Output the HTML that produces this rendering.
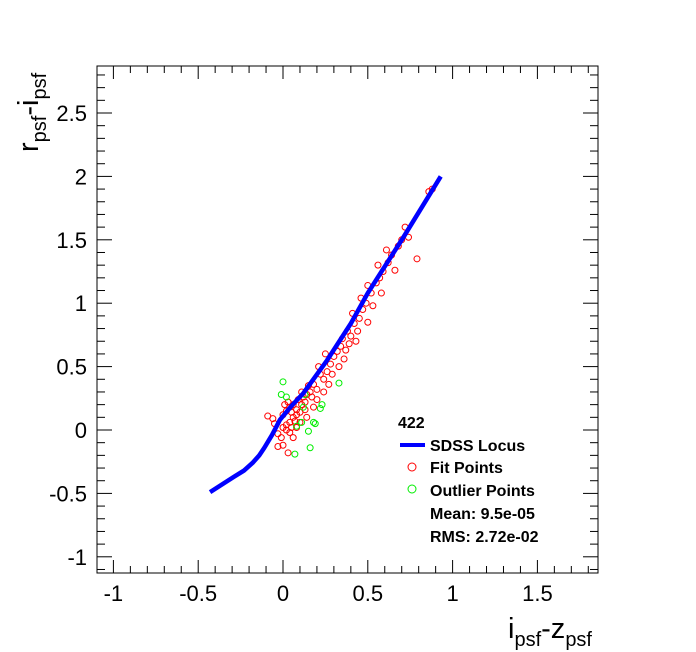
<!DOCTYPE html>
<html><head><meta charset="utf-8"><style>
body{margin:0;background:#fff;}
svg{display:block;font-family:"Liberation Sans",Arial,sans-serif;}
</style></head><body>
<svg id="chart" width="696" height="652" xmlns="http://www.w3.org/2000/svg">
<rect x="0" y="0" width="696" height="652" fill="#fff"/>
<g id="axes"></g>
<g id="marks"></g>
<text transform="translate(38,152) rotate(-90)" font-size="29" fill="#000">r<tspan font-size="20" dy="8">psf</tspan><tspan dy="-8">-i</tspan><tspan font-size="20" dy="8">psf</tspan></text>
<text x="508" y="638" font-size="29" fill="#000">i<tspan font-size="20" dy="8">psf</tspan><tspan dy="-8">-z</tspan><tspan font-size="20" dy="8">psf</tspan></text>
<g font-size="16" font-weight="bold" fill="#000">
<text x="398" y="428">422</text>
<line x1="400" y1="445" x2="425" y2="445" stroke="#0000ff" stroke-width="4"/>
<text x="430" y="451">SDSS Locus</text>
<circle cx="412" cy="467" r="4" fill="none" stroke="#ff0000"/>
<text x="430" y="473">Fit Points</text>
<circle cx="412" cy="489" r="4" fill="none" stroke="#00ee00"/>
<text x="430" y="496">Outlier Points</text>
<text x="430" y="519">Mean: 9.5e-05</text>
<text x="430" y="542">RMS: 2.72e-02</text>
</g>
</svg>
<script>
const xTicks=[-1,-0.5,0,0.5,1,1.5];
const yTicks=[-1,-0.5,0,0.5,1,1.5,2,2.5];
const locusX=[-0.43,-0.36,-0.29,-0.23,-0.18,-0.14,-0.11,-0.065,-0.018,0.05,0.12,0.26,0.4,0.5,0.71,0.93];
const locusY=[-0.49,-0.43,-0.37,-0.32,-0.26,-0.2,-0.14,-0.04,0.08,0.19,0.29,0.55,0.84,1.08,1.52,2.0];
const fitX=[-0.09,-0.06,-0.05,-0.03,-0.03,0.0,0.02,0.02,0.04,0.0,0.02,0.04,0.05,0.06,0.07,0.01,0.03,0.06,0.08,0.09,0.11,0.12,0.14,0.13,0.16,0.15,0.18,0.2,0.22,0.24,0.26,0.21,0.28,0.3,0.25,0.32,0.34,0.37,0.35,0.38,0.4,0.42,0.45,0.41,0.47,0.49,0.46,0.52,0.5,0.55,0.57,0.59,0.56,0.62,0.64,0.61,0.68,0.7,0.72,0.74,0.79,0.86,0.88,0.04,0.06,0.05,0.08,0.1,0.11,-0.01,0.0,0.03,0.13,0.17,0.27,0.33,0.43,0.5,0.53,0.58,0.66,0.2,0.1,0.08,0.14,0.18,0.24,0.29,0.36,0.39,0.44];
const fitY=[0.11,0.09,0.05,-0.03,-0.13,0.02,0.0,0.04,0.06,0.12,0.15,0.18,0.14,0.1,0.07,0.2,0.22,0.2,0.16,0.24,0.2,0.26,0.28,0.22,0.3,0.35,0.36,0.32,0.44,0.4,0.46,0.5,0.52,0.58,0.6,0.62,0.66,0.63,0.72,0.78,0.74,0.84,0.88,0.92,0.95,1.0,1.04,1.08,1.14,1.16,1.2,1.25,1.3,1.32,1.38,1.42,1.45,1.5,1.6,1.52,1.35,1.88,1.9,-0.02,-0.06,0.02,0.12,0.14,0.3,-0.06,-0.12,-0.18,0.16,0.26,0.36,0.5,0.7,0.85,0.98,1.08,1.26,0.24,0.06,0.02,0.1,0.18,0.3,0.44,0.56,0.68,0.78];
const outX=[0,0.33,-0.01,0.02,0.23,0.22,0.12,0.11,0.18,0.19,0.15,0.08,0.16,0.07,0.13];
const outY=[0.38,0.37,0.28,0.26,0.2,0.17,0.18,0.06,0.06,0.05,-0.01,0.03,-0.14,-0.19,0.28];

const L=97,R=598,T=66,B=573;
const sx=v=>283+v*169.6;
const sy=v=>430-v*126.8;
const NS="http://www.w3.org/2000/svg";
const axes=document.getElementById('axes'),marks=document.getElementById('marks');
function mk(tag,attrs,parent){const e=document.createElementNS(NS,tag);for(const k in attrs)e.setAttribute(k,attrs[k]);parent.appendChild(e);return e;}
const frame=mk('rect',{x:L,y:T,width:R-L,height:B-T,fill:'none',stroke:'#000','stroke-width':1},axes);


for(let i=-12;i<=19;i++){const v=i/10;const x=sx(v);if(x<L||x>R)continue;const major=(i%5===0);const len=major?13:7;
 const t1=mk('line',{x1:x,y1:B,x2:x,y2:B-len,stroke:'#000'},axes);
 
 
 const t2=mk('line',{x1:x,y1:T,x2:x,y2:T+len,stroke:'#000'},axes);
 
 }
for(let i=-12;i<=29;i++){const v=i/10;const y=sy(v);if(y<T||y>B)continue;const major=(i%5===0);const len=major?15:8;
 const t1=mk('line',{x1:L,y1:y,x2:L+len,y2:y,stroke:'#000'},axes);
 
 
 const t2=mk('line',{x1:R,y1:y,x2:R-len,y2:y,stroke:'#000'},axes);
 
 }
xTicks.forEach(v=>{const t=mk('text',{x:sx(v),y:601,'font-size':22,'text-anchor':'middle'},axes);t.textContent=String(v);
 
 });
yTicks.forEach(v=>{const t=mk('text',{x:87,y:sy(v)+8,'font-size':22,'text-anchor':'end'},axes);t.textContent=String(v);
 
 });
fitX.forEach((x,i)=>{const c=mk('circle',{cx:sx(x),cy:sy(fitY[i]),r:3,fill:'none',stroke:'#ff0000','stroke-width':1},marks);
 
 });
outX.forEach((x,i)=>{const c=mk('circle',{cx:sx(x),cy:sy(outY[i]),r:3,fill:'none',stroke:'#00ee00','stroke-width':1},marks);
 
 });
const pl=mk('polyline',{points:locusX.map((x,i)=>sx(x)+','+sy(locusY[i])).join(' '),fill:'none',stroke:'#0000ff','stroke-width':4.5,'stroke-linejoin':'round'},marks);


</script>
</body></html>
